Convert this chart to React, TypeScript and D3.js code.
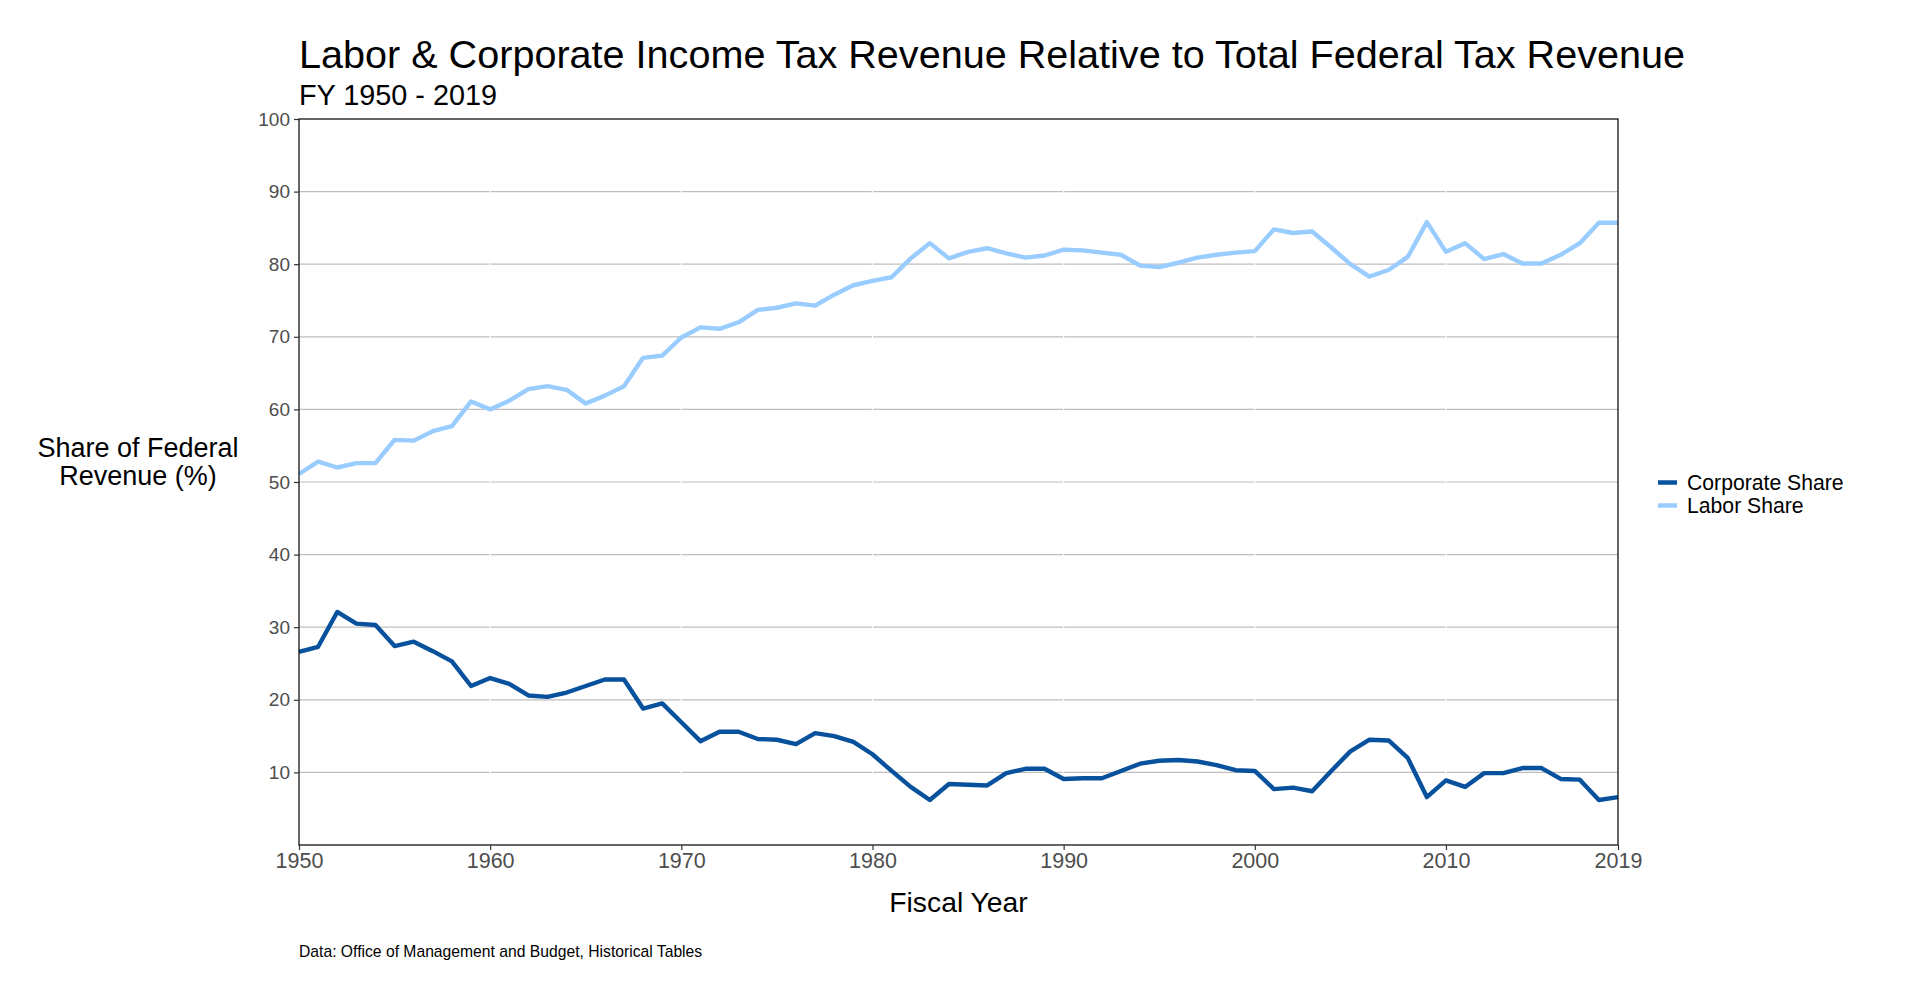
import React, { useEffect, useRef } from 'react'
import { scaleLinear, select, line, axisBottom, axisLeft } from 'd3';

// fiscal years 1950..2019
const years: number[] = [
    1950, 1951, 1952, 1953, 1954, 1955, 1956, 1957, 1958, 1959,
    1960, 1961, 1962, 1963, 1964, 1965, 1966, 1967, 1968, 1969,
    1970, 1971, 1972, 1973, 1974, 1975, 1976, 1977, 1978, 1979,
    1980, 1981, 1982, 1983, 1984, 1985, 1986, 1987, 1988, 1989,
    1990, 1991, 1992, 1993, 1994, 1995, 1996, 1997, 1998, 1999,
    2000, 2001, 2002, 2003, 2004, 2005, 2006, 2007, 2008, 2009,
    2010, 2011, 2012, 2013, 2014, 2015, 2016, 2017, 2018, 2019,
];

const laborShare: number[] = [
    51.1, 52.8, 52.0, 52.6, 52.6, 55.8, 55.7, 57.0, 57.7, 61.1,
    60.0, 61.2, 62.8, 63.2, 62.7, 60.8, 61.9, 63.2, 67.1, 67.4,
    69.9, 71.3, 71.1, 72.0, 73.7, 74.0, 74.6, 74.3, 75.8, 77.1,
    77.7, 78.2, 80.8, 82.9, 80.8, 81.7, 82.2, 81.5, 80.9, 81.2,
    82.0, 81.9, 81.6, 81.3, 79.8, 79.6, 80.2, 80.9, 81.3, 81.6,
    81.8, 84.8, 84.3, 84.5, 82.3, 80.0, 78.3, 79.2, 81.0, 85.8,
    81.7, 82.9, 80.7, 81.4, 80.1, 80.1, 81.3, 82.9, 85.7, 85.7,
];

const corporateShare: number[] = [
    26.6, 27.3, 32.1, 30.5, 30.3, 27.4, 28.0, 26.7, 25.3, 21.9,
    23.0, 22.2, 20.6, 20.4, 21.0, 21.9, 22.8, 22.8, 18.8, 19.5,
    16.9, 14.3, 15.6, 15.6, 14.6, 14.5, 13.9, 15.4, 15.0, 14.2,
    12.5, 10.2, 8.0, 6.2, 8.4, 8.3, 8.2, 9.9, 10.5, 10.5,
    9.1, 9.2, 9.2, 10.2, 11.2, 11.6, 11.7, 11.5, 11.0, 10.3,
    10.2, 7.7, 7.9, 7.4, 10.2, 12.9, 14.5, 14.4, 12.0, 6.6,
    8.9, 8.0, 9.9, 9.9, 10.6, 10.6, 9.1, 9.0, 6.2, 6.6,
];

const xTicks: number[] = [1950, 1960, 1970, 1980, 1990, 2000, 2010, 2019];
const xGrid: number[] = [1960, 1970, 1980, 1990, 2000, 2010];
const yTicks: number[] = [10, 20, 30, 40, 50, 60, 70, 80, 90, 100];
const yGrid: number[] = [10, 20, 30, 40, 50, 60, 70, 80, 90];

const seriesNames: string[] = ['Corporate Share', 'Labor Share'];
const seriesColors: string[] = ['#08519c', '#99ccff'];

const FONT = '"Liberation Sans", Arial, sans-serif';

const App = () => {
    const chartRef = useRef<SVGSVGElement>(null);

    useEffect(() => {
        const width = 1920;
        const height = 997;
        const margin = { top: 119, right: 302, bottom: 152, left: 299 };

        const svg = select(chartRef.current);
        svg.selectAll('*').remove();
        svg.attr('width', width).attr('height', height);

        svg.append('rect').attr('width', width).attr('height', height).attr('fill', 'white');

        const x = scaleLinear()
            .domain([1950, 2019])
            .range([margin.left, width - margin.right]);

        const y = scaleLinear()
            .domain([0, 100])
            .range([height - margin.bottom, margin.top]);

        // horizontal grid
        svg.append('g')
            .selectAll('line')
            .data(yGrid)
            .enter()
            .append('line')
            .attr('x1', x(1950))
            .attr('x2', x(2019))
            .attr('y1', d => y(d))
            .attr('y2', d => y(d))
            .attr('stroke', '#bebebe')
            .attr('stroke-width', 1.2);

        // white vertical grid on top of it
        svg.append('g')
            .selectAll('line')
            .data(xGrid)
            .enter()
            .append('line')
            .attr('x1', d => x(d))
            .attr('x2', d => x(d))
            .attr('y1', y(0))
            .attr('y2', y(100))
            .attr('stroke', 'white')
            .attr('stroke-width', 1.2);

        const series = [corporateShare, laborShare];
        series.forEach((values, i) => {
            const path = line<number>()
                .x((_, j) => x(years[j]))
                .y(d => y(d));
            svg.append('path')
                .datum(values)
                .attr('d', path)
                .attr('fill', 'none')
                .attr('stroke', seriesColors[i])
                .attr('stroke-width', 4.4)
                .attr('stroke-linejoin', 'round');
        });

        // panel border
        svg.append('rect')
            .attr('x', x(1950))
            .attr('y', y(100))
            .attr('width', x(2019) - x(1950))
            .attr('height', y(0) - y(100))
            .attr('fill', 'none')
            .attr('stroke', 'black')
            .attr('stroke-width', 1.2);

        const xAxis = svg.append('g')
            .attr('transform', `translate(0, ${y(0)})`)
            .call(axisBottom(x).tickValues(xTicks).tickFormat(d => String(d)).tickSize(5).tickPadding(3));
        const yAxis = svg.append('g')
            .attr('transform', `translate(${x(1950)}, 0)`)
            .call(axisLeft(y).tickValues(yTicks).tickFormat(d => String(d)).tickSize(5).tickPadding(4));

        [xAxis, yAxis].forEach(ax => {
            ax.select('.domain').remove();
            ax.selectAll('line').attr('stroke', '#333333').attr('stroke-width', 1.2);
            ax.selectAll('text')
                .attr('fill', '#4d4d4d')
                .style('font-family', FONT);
        });
        xAxis.selectAll('text').style('font-size', '21.5px');
        yAxis.selectAll('text').style('font-size', '19px');

        // titles
        svg.append('text')
            .attr('x', 299)
            .attr('y', 68)
            .style('font-family', FONT)
            .style('font-size', '39.6px')
            .attr('fill', 'black')
            .text('Labor & Corporate Income Tax Revenue Relative to Total Federal Tax Revenue');

        svg.append('text')
            .attr('x', 299)
            .attr('y', 105)
            .style('font-family', FONT)
            .style('font-size', '28.8px')
            .attr('fill', 'black')
            .text('FY 1950 - 2019');

        const yTitle = svg.append('text')
            .attr('text-anchor', 'middle')
            .style('font-family', FONT)
            .style('font-size', '27px')
            .attr('fill', 'black');
        yTitle.append('tspan').attr('x', 138).attr('y', 457).text('Share of Federal');
        yTitle.append('tspan').attr('x', 138).attr('y', 485).text('Revenue (%)');

        svg.append('text')
            .attr('x', (x(1950) + x(2019)) / 2)
            .attr('y', 912)
            .attr('text-anchor', 'middle')
            .style('font-family', FONT)
            .style('font-size', '28.3px')
            .attr('fill', 'black')
            .text('Fiscal Year');

        svg.append('text')
            .attr('x', 299)
            .attr('y', 957)
            .style('font-family', FONT)
            .style('font-size', '15.7px')
            .attr('fill', 'black')
            .text('Data: Office of Management and Budget, Historical Tables');

        // legend
        const legend = svg.append('g').attr('transform', 'translate(1658, 482.5)');
        seriesNames.forEach((name, i) => {
            legend.append('line')
                .attr('x1', 0)
                .attr('x2', 19)
                .attr('y1', i * 23)
                .attr('y2', i * 23)
                .attr('stroke', seriesColors[i])
                .attr('stroke-width', 4.5);
            legend.append('text')
                .attr('x', 29)
                .attr('y', i * 23 + 7.5)
                .style('font-family', FONT)
                .style('font-size', '21.2px')
                .attr('fill', 'black')
                .text(name);
        });
    }, [chartRef]);

    return (
        <svg ref={chartRef} style={{ position: 'absolute', left: 0, top: 0, display: 'block' }} />
    )
}

export default App
